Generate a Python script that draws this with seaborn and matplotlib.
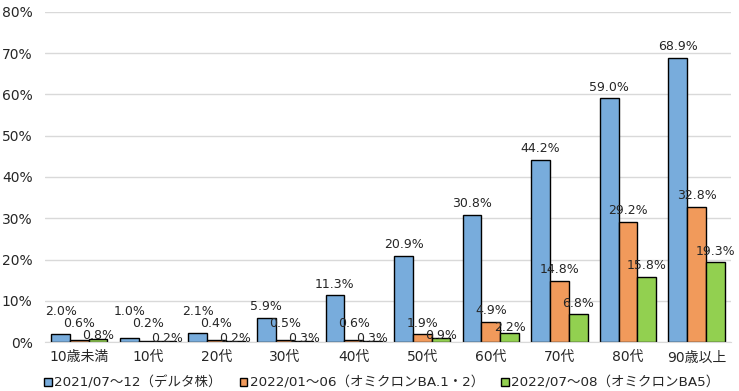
import pandas as pd
import seaborn as sns
import matplotlib.pyplot as plt
from matplotlib.ticker import FuncFormatter

# データ（%）
categories = ['10歳未満', '10代', '20代', '30代', '40代', '50代', '60代', '70代', '80代', '90歳以上']
series_names = ['2021/07～12（デルタ株）', '2022/01～06（オミクロンBA.1・2）', '2022/07～08（オミクロンBA5）']
delta = [2.0, 1.0, 2.1, 5.9, 11.3, 20.9, 30.8, 44.2, 59.0, 68.9]
ba12 = [0.6, 0.2, 0.4, 0.5, 0.6, 1.9, 4.9, 14.8, 29.2, 32.8]
ba5 = [0.8, 0.2, 0.2, 0.3, 0.3, 0.9, 2.2, 6.8, 15.8, 19.3]
colors = ['#78acdc', '#f19a5b', '#92d050']

df = pd.DataFrame({'年代': categories,
                   series_names[0]: delta,
                   series_names[1]: ba12,
                   series_names[2]: ba5})
df_long = df.melt('年代', var_name='期間', value_name='割合')

sns.set_style('white')
plt.rcParams['font.family'] = ['DejaVu Sans', 'Noto Sans CJK JP']

fig = plt.figure(figsize=(7.39, 3.91), dpi=100)
ax = fig.add_axes([0.061, 0.125, 0.928, 0.845])

sns.barplot(data=df_long, x='年代', y='割合', hue='期間', palette=colors,
            width=0.82, edgecolor='black', linewidth=1, saturation=1, ax=ax)

ax.set_ylim(0, 80)
ax.set_yticks(range(0, 81, 10))
ax.yaxis.set_major_formatter(FuncFormatter(lambda v, p: f'{v:.0f}%'))
ax.grid(axis='y', color='#d9d9d9', linewidth=1)
ax.set_axisbelow(True)
for s in ['left', 'right', 'top']:
    ax.spines[s].set_visible(False)
ax.spines['bottom'].set_color('#d9d9d9')
ax.tick_params(axis='y', length=0, pad=9, labelsize=10)
ax.tick_params(axis='x', length=0, pad=6, labelsize=10)
ax.set_xlabel('')
ax.set_ylabel('')
ax.set_xlim(-0.5, len(categories) - 0.5)

# データラベル（元の図のように低い値は少し持ち上げる）
px = 10 / 41.25  # 1ピクセルあたりの%
for i, cont in enumerate(ax.containers):
    vals = [delta, ba12, ba5][i]
    for bar, v in zip(cont, vals):
        xc = bar.get_x() + bar.get_width() / 2
        if i == 0:
            yc = max(v + 11 * px, 7.3)
        elif i == 1:
            yc = max(v + 11 * px, 4.6)
        else:
            yc = v + min(11, 2 + 1.5 * v) * px
        ax.text(xc, yc, f'{v:.1f}%', ha='center', va='center', fontsize=9)

handles, labels = ax.get_legend_handles_labels()
ax.get_legend().remove()
fig.legend(handles, labels, loc='lower center', bbox_to_anchor=(0.517, -0.018), ncol=3,
           frameon=False, fontsize=9.7, handlelength=0.55, handleheight=0.55,
           handletextpad=0.2, columnspacing=1.3, borderaxespad=0.2)

fig.savefig('out.png', dpi=100)
